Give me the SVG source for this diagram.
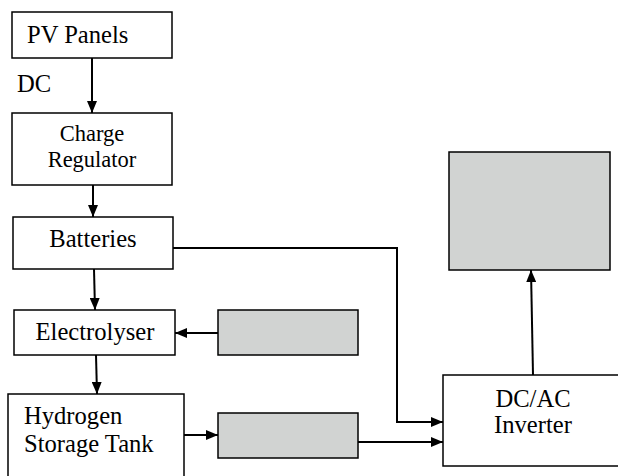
<svg xmlns="http://www.w3.org/2000/svg" width="618" height="476" viewBox="0 0 618 476">
<style>
.box{fill:#fff;stroke:#000;stroke-width:1.5}
.grey{fill:#d1d3d2;stroke:#000;stroke-width:1.5}
.c{stroke:#000;stroke-width:2;fill:none}
</style>
<defs>
<marker id="ah" viewBox="0 0 12 10" refX="12" refY="5" markerWidth="12" markerHeight="10" markerUnits="userSpaceOnUse" orient="auto">
<path d="M0,0 L12,5 L0,10 Z" fill="#000"/>
</marker>
</defs>
<rect width="618" height="476" fill="#fff"/>
<g font-family="Liberation Serif, Times New Roman, serif" font-size="24.6" fill="#000">
<g id="connectors">
<line class="c" x1="92" y1="58" x2="92" y2="113" marker-end="url(#ah)"/>
<line class="c" x1="93" y1="185" x2="93" y2="217" marker-end="url(#ah)"/>
<line class="c" x1="94" y1="269" x2="95" y2="310" marker-end="url(#ah)"/>
<line class="c" x1="96" y1="355" x2="97" y2="394" marker-end="url(#ah)"/>
<line class="c" x1="218" y1="333" x2="175" y2="333" marker-end="url(#ah)"/>
<line class="c" x1="184" y1="435" x2="218" y2="435" marker-end="url(#ah)"/>
<line class="c" x1="358" y1="442" x2="443" y2="442" marker-end="url(#ah)"/>
<polyline class="c" points="167,248 397,248 397,422 443,422" marker-end="url(#ah)"/>
<line class="c" x1="533" y1="375" x2="531" y2="270" marker-end="url(#ah)"/>
<text x="17" y="92">DC</text>
</g>
<g id="pv-panels">
<rect class="box" x="12" y="12" width="160" height="46"/>
<text x="27" y="43">PV Panels</text>
</g>
<g id="charge-regulator">
<rect class="box" x="12" y="113" width="160" height="72"/>
<text x="92" y="141" text-anchor="middle" font-size="22.5">Charge</text>
<text x="92" y="167" text-anchor="middle" font-size="22.5">Regulator</text>
</g>
<g id="batteries">
<rect class="box" x="13" y="217" width="160" height="52"/>
<text x="93" y="247" text-anchor="middle">Batteries</text>
</g>
<g id="electrolyser">
<rect class="box" x="14" y="310" width="161" height="45"/>
<text x="95" y="340" text-anchor="middle">Electrolyser</text>
</g>
<g id="grey-1">
<rect class="grey" x="218" y="310" width="140" height="45"/>
</g>
<g id="hydrogen-storage">
<rect class="box" x="8" y="394" width="176" height="90"/>
<text x="24" y="424">Hydrogen</text>
<text x="24" y="452">Storage Tank</text>
</g>
<g id="grey-2">
<rect class="grey" x="218" y="413" width="140" height="45"/>
</g>
<g id="inverter">
<rect class="box" x="443" y="375" width="185" height="91"/>
<text x="533" y="407" text-anchor="middle">DC/AC</text>
<text x="533" y="433" text-anchor="middle">Inverter</text>
</g>
<g id="grey-3">
<rect class="grey" x="449" y="152" width="161" height="118"/>
</g>
</g>
</svg>
